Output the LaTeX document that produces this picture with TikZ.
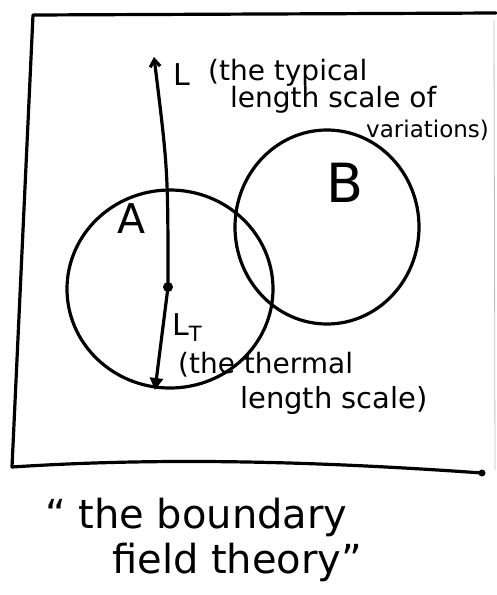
\documentclass[tikz,border=0pt]{standalone}
\usepackage{fontspec}
\setmainfont{DejaVu Sans}
\usetikzlibrary{arrows.meta,shapes.geometric}
\begin{document}
\begin{tikzpicture}[x=1pt,y=-1pt,
  ink/.style={line width=3.2pt,line cap=round,line join=round},
  hand/.style={inner sep=0pt,anchor=base west},
  blob/.style={draw,ellipse,line width=3.2pt,inner sep=0pt}]
\useasboundingbox (0,0) rectangle (496,595);
% frame
\coordinate (tl) at (33,15);
\coordinate (tr) at (496,13);
\coordinate (bl) at (12,467);
\coordinate (br) at (482,473);
\draw[ink] (tr) -- (tl) -- (bl) .. controls (150,458) and (300,460) .. (br);
\fill (br) circle (3.5pt);
\draw[line width=0.8pt,black!25] (494,20) -- (495,470);
% circles
\node[blob,minimum width=206pt,minimum height=198pt] (circA) at (170,289) {};
\node[blob,minimum width=184pt,minimum height=194pt] (circB) at (327,227) {};
% arrows
\coordinate (mid) at (168,287);
\coordinate (top) at (154,57);
\coordinate (bot) at (155,390);
\draw[ink,-{Straight Barb[length=7pt,width=10pt]}] (mid) .. controls (168,170) .. (top);
\draw[ink,-{Triangle[length=12pt,width=13pt]}] (mid) -- (bot);
\fill (mid) circle (5pt);
% labels
\node[hand,font=\fontsize{30}{34}\selectfont] (labL) at (173,85) {L};
\node[hand,font=\fontsize{28}{32}\selectfont] (labL1) at (208,80) {(the typical};
\node[hand,font=\fontsize{28}{32}\selectfont] (labL2) at (230,107) {length scale of};
\node[hand,font=\fontsize{23}{28}\selectfont] (labL3) at (366,137) {variations)};
\node[hand,font=\fontsize{41}{46}\selectfont] (labA) at (117,233) {A};
\node[hand,font=\fontsize{54}{60}\selectfont] (labB) at (326,202) {B};
\node[hand,font=\fontsize{30}{34}\selectfont] (labLT) at (172,335) {L$_\mathrm{T}$};
\node[hand,font=\fontsize{28}{32}\selectfont] (labT1) at (178,373) {(the thermal};
\node[hand,font=\fontsize{29}{32}\selectfont] (labT2) at (240,408) {length scale)};
\node[hand,font=\fontsize{40}{46}\selectfont] (cap1) at (45,528) {\char"201C\ the boundary};
\node[hand,font=\fontsize{40}{46}\selectfont] (cap2) at (112,573) {field theory\char"201D};
\end{tikzpicture}
\end{document}
